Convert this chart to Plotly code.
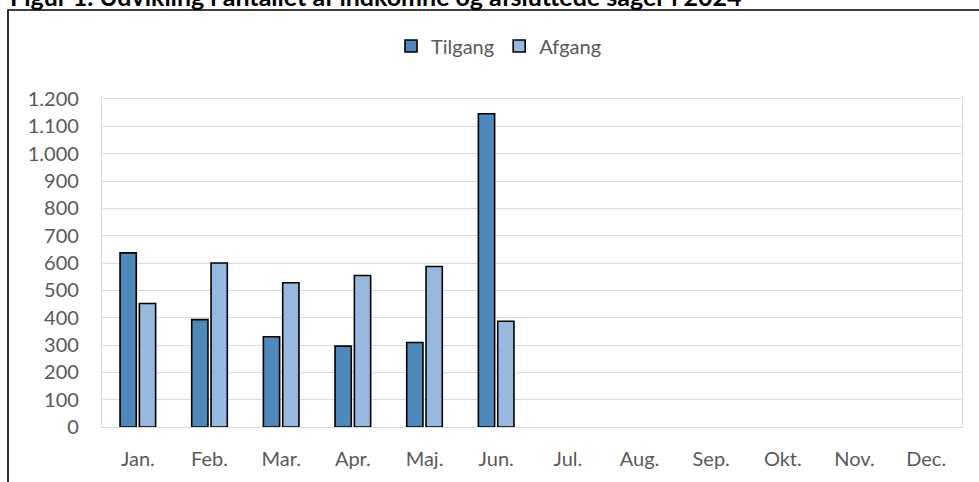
import plotly.graph_objects as go

months = ["Jan.", "Feb.", "Mar.", "Apr.", "Maj.", "Jun.", "Jul.", "Aug.", "Sep.", "Okt.", "Nov.", "Dec."]
tilgang = [637, 393, 330, 296, 309, 1146, None, None, None, None, None, None]
afgang = [452, 600, 528, 554, 587, 387, None, None, None, None, None, None]
ytick_vals = [0, 100, 200, 300, 400, 500, 600, 700, 800, 900, 1000, 1100, 1200]
ytick_text = ["0", "100", "200", "300", "400", "500", "600", "700", "800", "900", "1.000", "1.100", "1.200"]
title_text = "Figur 1. Udvikling i antallet af indkomne og afsluttede sager i 2024"

FONT = "Lato"
GRAY = "#595959"
GRID = "#D9D9D9"

fig = go.Figure()
fig.add_trace(go.Bar(x=months, y=tilgang, name="Tilgang",
                     marker=dict(color="#4F88BB", line=dict(color="black", width=1.6))))
fig.add_trace(go.Bar(x=months, y=afgang, name="Afgang",
                     marker=dict(color="#97B9E0", line=dict(color="black", width=1.6))))

W, H = 979, 482
L, R, T, B = 102, 17, 99, 55
pw, ph = W - L - R, H - T - B

def px_x(x):
    return (x - L) / pw

def px_y(y):
    return (H - B - y) / ph

fig.update_layout(
    width=W, height=H,
    margin=dict(l=L, r=R, t=T, b=B),
    paper_bgcolor="white", plot_bgcolor="white",
    font=dict(family=FONT, size=20, color=GRAY),
    barmode="group", bargap=0.46, bargroupgap=0.16,
    showlegend=True,
    legend=dict(orientation="h", x=px_x(499), xanchor="center", y=px_y(46), yanchor="middle",
                font=dict(family=FONT, size=20, color=GRAY), traceorder="normal",
                itemwidth=30, bgcolor="rgba(0,0,0,0)"),
    annotations=[dict(text="<b>" + title_text + "</b>", xref="paper", yref="paper",
                      x=px_x(8), xanchor="left", y=px_y(-4), yanchor="middle",
                      showarrow=False, font=dict(family=FONT, size=25, color="black"))],
    xaxis=dict(showgrid=False, showline=True, linecolor=GRID, linewidth=1.3, mirror=True,
               ticks="", ticklabelstandoff=14, tickfont=dict(size=20, color=GRAY)),
    yaxis=dict(range=[0, 1200], tickvals=ytick_vals, ticktext=ytick_text,
               showgrid=True, gridcolor=GRID, gridwidth=1.3, showline=True, linecolor=GRID,
               linewidth=1.3, mirror=True, ticks="", ticklabelstandoff=18, zeroline=False,
               tickfont=dict(size=20, color=GRAY)),
    shapes=[dict(type="rect", xref="paper", yref="paper",
                 x0=px_x(8), x1=px_x(990), y0=px_y(495), y1=px_y(10),
                 line=dict(color="black", width=1.6), fillcolor="rgba(0,0,0,0)", layer="below")],
)

fig.write_html("out.html", config={"displayModeBar": False},
               post_script="document.body.style.margin='0';document.body.style.overflow='hidden';")
